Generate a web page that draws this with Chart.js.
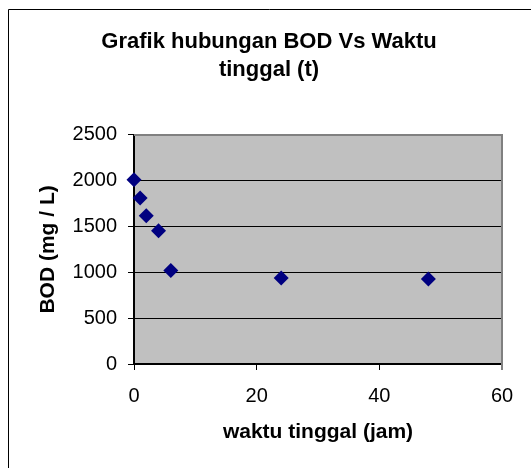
<!DOCTYPE html>
<html>
<head>
<meta charset="utf-8">
<script src="https://cdn.jsdelivr.net/npm/chart.js@4"></script>
<style>
html,body{margin:0;padding:0;background:#fff;}
#wrap{width:531px;height:468px;position:relative;}
</style>
</head>
<body>
<div id="wrap"><canvas id="c" width="531" height="468"></canvas></div>
<script>
const titleLines = ["Grafik hubungan BOD Vs Waktu", "tinggal (t)"];
const xAxisTitle = "waktu tinggal (jam)";
const yAxisTitle = "BOD (mg / L)";
const timeHours = [0, 1, 2, 4, 6, 24, 48];
const bodValues = [2010, 1810, 1618, 1455, 1020, 938, 927];
const xTicks = [0, 20, 40, 60];
const yTicks = [0, 500, 1000, 1500, 2000, 2500];

const FONT = "'Liberation Sans', Arial, sans-serif";

const frame = {
  id: 'frame',
  beforeDraw(chart) {
    const ctx = chart.ctx;
    ctx.save();
    ctx.fillStyle = '#fff';
    ctx.fillRect(0, 0, chart.width, chart.height);
    ctx.strokeStyle = '#000';
    ctx.lineWidth = 1;
    ctx.beginPath();
    ctx.moveTo(8.5, chart.height);
    ctx.lineTo(8.5, 9.5);
    ctx.lineTo(chart.width, 9.5);
    ctx.stroke();
    const a = chart.chartArea;
    ctx.fillStyle = '#C0C0C0';
    ctx.fillRect(a.left, a.top, a.right - a.left, a.bottom - a.top);
    ctx.restore();
  },
  beforeDatasetsDraw(chart) {
    const ctx = chart.ctx;
    const a = chart.chartArea;
    ctx.save();
    ctx.strokeStyle = '#808080';
    ctx.lineWidth = 2;
    ctx.beginPath();
    ctx.moveTo(a.left, a.top);
    ctx.lineTo(a.right, a.top);
    ctx.lineTo(a.right, a.bottom + 6);
    ctx.stroke();
    ctx.restore();
  }
};

new Chart(document.getElementById('c'), {
  type: 'scatter',
  data: {
    datasets: [{
      data: timeHours.map((t, i) => ({x: t, y: bodValues[i]})),
      pointStyle: 'rectRot',
      pointRadius: 7.5,
      pointHoverRadius: 7.5,
      backgroundColor: '#000080',
      borderColor: '#000080',
      borderWidth: 0,
      clip: false
    }]
  },
  options: {
    responsive: false,
    animation: false,
    events: [],
    layout: {padding: {left: 36, right: 29, top: 0, bottom: 0}},
    plugins: {
      legend: {display: false},
      tooltip: {enabled: false},
      title: {
        display: true,
        text: titleLines,
        color: '#000',
        font: {family: FONT, size: 22, weight: 'bold', lineHeight: 1.27},
        padding: {top: 28, bottom: 51}
      }
    },
    scales: {
      x: {
        type: 'linear',
        min: 0, max: 60,
        afterBuildTicks(s) { s.ticks = xTicks.map(v => ({value: v})); },
        afterFit(s) { s.height = 104; },
        ticks: {color: '#000', font: {family: FONT, size: 20}, padding: 14, callback: v => String(v)},
        grid: {drawOnChartArea: false, drawTicks: true, tickLength: 6, tickColor: '#000'},
        border: {color: '#000', width: 2},
        title: {display: true, text: xAxisTitle, color: '#000',
          font: {family: FONT, size: 21, weight: 'bold'}, padding: {top: 0, bottom: 23}}
      },
      y: {
        type: 'linear',
        min: 0, max: 2500,
        afterBuildTicks(s) { s.ticks = yTicks.map(v => ({value: v})); },
        afterFit(s) { s.width = 98; },
        ticks: {color: '#000', font: {family: FONT, size: 20}, padding: 11, callback: v => String(v)},
        grid: {
          drawTicks: true, tickLength: 6, tickColor: '#000',
          color: ctx => (ctx.tick && (ctx.tick.value === 0 || ctx.tick.value === 2500)) ? 'rgba(0,0,0,0)' : '#000',
          lineWidth: 1
        },
        border: {color: '#000', width: 2},
        title: {display: true, text: yAxisTitle, color: '#000',
          font: {family: FONT, size: 21, weight: 'bold'}, padding: {top: 0, bottom: 0}}
      }
    }
  },
  plugins: [frame]
});
</script>
</body>
</html>
